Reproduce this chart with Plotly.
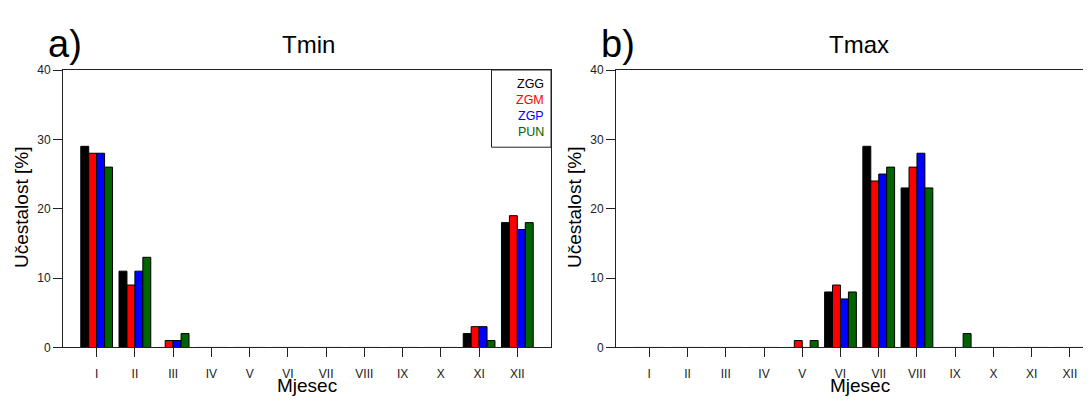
import plotly.graph_objects as go

months = ["I", "II", "III", "IV", "V", "VI", "VII", "VIII", "IX", "X", "XI", "XII"]
month_pos = list(range(1, 13))
stations = ["ZGG", "ZGM", "ZGP", "PUN"]
colors = ["#000000", "#ff0000", "#0000ff", "#006400"]

# Tmin frequencies [%]
tmin_zgg = [29, 11, 0, 0, 0, 0, 0, 0, 0, 0, 2, 18]
tmin_zgm = [28, 9, 1, 0, 0, 0, 0, 0, 0, 0, 3, 19]
tmin_zgp = [28, 11, 1, 0, 0, 0, 0, 0, 0, 0, 3, 17]
tmin_pun = [26, 13, 2, 0, 0, 0, 0, 0, 0, 0, 1, 18]

# Tmax frequencies [%]
tmax_zgg = [0, 0, 0, 0, 0, 8, 29, 23, 0, 0, 0, 0]
tmax_zgm = [0, 0, 0, 0, 1, 9, 24, 26, 0, 0, 0, 0]
tmax_zgp = [0, 0, 0, 0, 0, 7, 25, 28, 0, 0, 0, 0]
tmax_pun = [0, 0, 0, 0, 1, 8, 26, 23, 2, 0, 0, 0]

yticks = [0, 10, 20, 30, 40]

W, H = 1091, 401
OFF = 8  # page body margin
FONT = "Liberation Sans, Arial, Helvetica, sans-serif"
AX = "#222222"


def px(x):
    return (x - OFF) / W


def py(y):
    return 1 - (y - OFF) / H


fig = go.Figure()

for vals, name, col in zip([tmin_zgg, tmin_zgm, tmin_zgp, tmin_pun], stations, colors):
    fig.add_trace(go.Bar(x=month_pos, y=vals, name=name,
                         marker=dict(color=col, line=dict(color="#000000", width=1)),
                         xaxis="x", yaxis="y", showlegend=False))
for vals, name, col in zip([tmax_zgg, tmax_zgm, tmax_zgp, tmax_pun], stations, colors):
    fig.add_trace(go.Bar(x=month_pos, y=vals, name=name,
                         marker=dict(color=col, line=dict(color="#000000", width=1)),
                         xaxis="x2", yaxis="y2", showlegend=False))

y_dom = [py(352.5), py(65)]


def xax(dom, rng, anchor):
    return dict(domain=dom, range=rng, anchor=anchor, tickmode="array", tickvals=month_pos, ticktext=months,
                ticks="outside", ticklen=9, tickcolor=AX, tickwidth=1, showline=True, linecolor=AX,
                linewidth=1, mirror=True, showgrid=False, zeroline=False, ticklabelstandoff=6,
                tickfont=dict(size=12, color=AX, family=FONT), fixedrange=True)


def yax(anchor, mirror):
    return dict(domain=y_dom, range=[0, 40], tickmode="array", tickvals=yticks, anchor=anchor,
                ticks="outside", ticklen=9, tickcolor=AX, tickwidth=1, showline=True, linecolor=AX,
                linewidth=1, mirror=mirror, showgrid=False, zeroline=False,
                tickfont=dict(size=12, color=AX, family=FONT), fixedrange=True)


fig.update_layout(
    width=W, height=H,
    margin=dict(l=0, r=0, t=0, b=0),
    paper_bgcolor="white", plot_bgcolor="white",
    barmode="group", bargap=0.17, bargroupgap=0,
    font=dict(family=FONT, color="#000000"),
    xaxis=xax([px(63), px(551)], [0.12, 12.88], "y"),
    yaxis=yax("x", True),
    xaxis2=xax([px(616), 1.0], [0.13, 12.76], "y2"),
    yaxis2=yax("x2", False),
    showlegend=False,
)

ann = []
ann.append(dict(text="a)", x=px(46), y=py(38), xanchor="left", yanchor="middle", font=dict(size=38)))
ann.append(dict(text="b)", x=px(599), y=py(38), xanchor="left", yanchor="middle", font=dict(size=38)))
ann.append(dict(text="Tmin", x=px(308), y=py(39), xanchor="center", yanchor="middle", font=dict(size=24)))
ann.append(dict(text="Tmax", x=px(859), y=py(39), xanchor="center", yanchor="middle", font=dict(size=24)))
for cx in (307, 860):
    ann.append(dict(text="Mjesec", x=px(cx), y=py(392), xanchor="center", yanchor="middle", font=dict(size=19)))
for cx in (21, 574):
    ann.append(dict(text="Učestalost [%]", x=px(cx), y=py(208), xanchor="center", yanchor="middle",
                    textangle=-90, font=dict(size=19)))
for i, (name, col) in enumerate(zip(stations, colors)):
    ann.append(dict(text=name, x=px(545.5), y=py(80 + i * 16.3), xanchor="right", yanchor="middle",
                    font=dict(size=12.5, color=col)))
for a in ann:
    a.update(xref="paper", yref="paper", showarrow=False)
    a["font"].setdefault("color", "#000000")
    a["font"]["family"] = FONT
fig.update_layout(annotations=ann)

fig.add_shape(type="rect", xref="paper", yref="paper", x0=px(491.5), x1=px(551), y0=py(145), y1=py(65),
              line=dict(color=AX, width=1), fillcolor="rgba(0,0,0,0)")

fig.write_html("out.html")
